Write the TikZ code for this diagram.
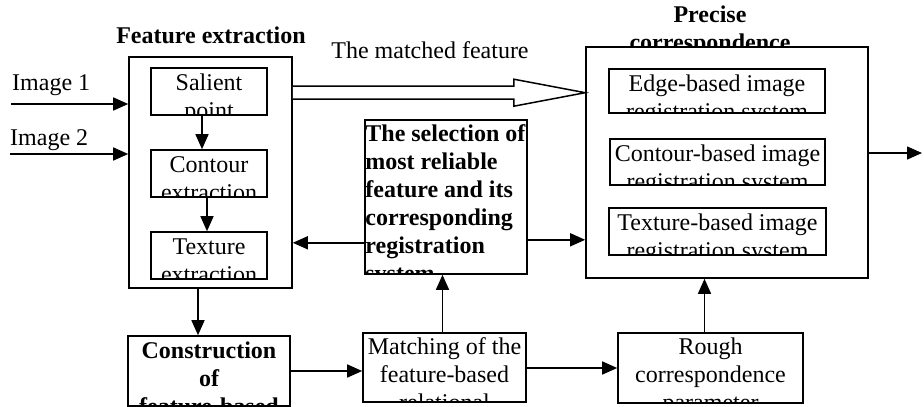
\documentclass[tikz,border=0pt]{standalone}
\usepackage{fontspec}
\setmainfont{Liberation Serif}
\usetikzlibrary{arrows.meta,calc,fit}
\newcommand\myclip[4]{\begin{scope}\clip (#1.south west) rectangle (#1.north east);
  \node[#2] at ($(#1.north)+(0,#3)$) {#4};\end{scope}}
\begin{document}
\begin{tikzpicture}[x=1pt,y=-1pt,
  box/.style={draw,line width=1.6pt,inner sep=0pt},
  conn/.style={line width=1.5pt,-{Triangle[length=15pt,width=13pt]}},
  txt/.style={font=\fontsize{24}{28}\selectfont,inner sep=0pt,anchor=base,align=center},
  btxt/.style={font=\fontsize{24}{28}\selectfont\bfseries,inner sep=0pt,anchor=base,align=center}]
\useasboundingbox (0,0) rectangle (924,407);
% boxes
\node[box,fit={(129,57) (292,288)}] (fe) {};
\node[box,fit={(151,68) (267,115)}] (sal) {};
\node[box,fit={(151,150) (267,197)}] (con) {};
\node[box,fit={(151,232) (267,279)}] (tex) {};
\node[box,fit={(365,120) (527,274)}] (sel) {};
\node[box,fit={(586,47) (868,278)}] (pc) {};
\node[box,fit={(609,69) (825,113)}] (edge) {};
\node[box,fit={(610,139) (825,185)}] (cont) {};
\node[box,fit={(609,208) (826,255)}] (textr) {};
\node[box,fit={(618,333) (803,403)}] (rough) {};
\node[box,fit={(363,333) (526,402)}] (match) {};
\node[box,fit={(128,336) (290,406)}] (cons) {};
% texts in boxes (base anchor = last line's baseline)
\myclip{sal}{txt}{51}{Salient\\point}
\myclip{con}{txt}{51}{Contour\\extraction}
\myclip{tex}{txt}{51}{Texture\\extraction}
\myclip{edge}{txt}{51}{Edge-based image\\registration system}
\myclip{cont}{txt}{51}{Contour-based image\\registration system}
\myclip{textr}{txt}{51}{Texture-based image\\registration system}
\myclip{rough}{txt}{78}{Rough\\correspondence\\parameter}
\myclip{match}{txt}{78}{Matching of the\\feature-based\\relational}
\myclip{cons}{btxt}{79}{Construction\\of\\feature-based}
\begin{scope}
\clip (sel.south west) rectangle (sel.north east);
\node[btxt,anchor=base west,align=left] at ($(sel.north west)+(1,162)$) {The selection of\\most reliable\\feature and its\\corresponding\\registration\\system};
\end{scope}
% titles
\node[btxt] (fet) at (211,43) {Feature extraction};
\begin{scope}
\clip (560,0) rectangle (880,47);
\node[btxt] (pct) at (710,50) {Precise\\correspondence};
\end{scope}
\node[txt] (mf) at (430,58) {The matched feature};
\node[txt,anchor=base west] (im1) at (12,90) {Image 1};
\node[txt,anchor=base west] (im2) at (10,145) {Image 2};
% arrows
\coordinate (i1) at (11,104);
\coordinate (i2) at (10,154);
\draw[conn] (i1) -- (i1 -| fe.west);
\draw[conn] (i2) -- (i2 -| fe.west);
\draw[conn] ([xshift=-7pt]sal.south) -- ([xshift=-7pt]con.north);
\draw[conn] ([xshift=-2pt]con.south) -- ([xshift=-2pt]tex.north);
\draw[conn] ([xshift=-12.5pt]fe.south) -- ([xshift=-12.5pt]fe.south |- cons.north);
\draw[conn] (cons.east) -- (cons.east -| match.west);
\draw[conn] ([xshift=-2pt]match.north) -- ([xshift=-2pt]match.north |- sel.south);
\draw[conn] (match.east |- rough.west) -- (rough.west);
\draw[conn] ([xshift=-6pt]rough.north) -- ([xshift=-6pt]rough.north |- pc.south);
\coordinate (a1) at ($(sel.south west)+(0,-32)$);
\draw[conn] (a1) -- (a1 -| fe.east);
\coordinate (a2) at ($(sel.south east)+(0,-35)$);
\draw[conn] (a2) -- (a2 -| pc.west);
\coordinate (out) at (922,153);
\draw[conn] (out -| pc.east) -- (out);
% hollow arrow
\coordinate (h0) at ($(fe.north east)+(0,36.5)$);
\draw[line width=1.5pt,fill=white,line join=miter]
  ($(h0)+(0,-6.5)$) -- ++(221,0) -- ++(0,-7) -- (h0 -| pc.west)
  -- ($(h0)+(221,13.5)$) -- ++(0,-7) -- ($(h0)+(0,6.5)$);
\end{tikzpicture}
\end{document}
